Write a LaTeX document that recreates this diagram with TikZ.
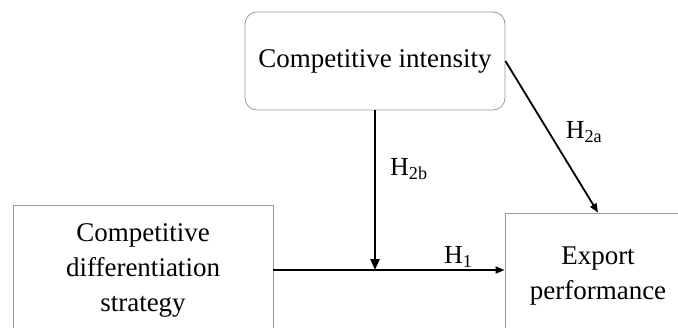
\documentclass[tikz,border=0pt]{standalone}
\usepackage{fontspec}
\setmainfont{Liberation Serif}
\usetikzlibrary{arrows.meta}
\tikzset{
  varbox/.style={draw=gray!80,line width=.8pt,align=center,inner sep=0pt},
  link/.style={-{Triangle[length=9pt,width=7pt]},line width=1.8pt},
  hyp/.style={font=\fontsize{26}{30}\selectfont,inner sep=2pt},
}
\begin{document}
\begin{tikzpicture}[x=1pt,y=-1pt,font=\fontsize{27}{35}\selectfont]
  \clip (0,0) rectangle (678,327);
  % variables
  \node[varbox,rounded corners=12pt,minimum width=260pt,minimum height=98pt] (int) at (375,61) {Competitive intensity};
  \node[varbox,minimum width=260pt,minimum height=130pt] (cds) at (143,270) {Competitive\\differentiation\\strategy};
  \node[varbox,minimum width=186pt,minimum height=126pt] (exp) at (598,276) {Export\\performance};
  % hypotheses
  \draw[link] (cds.east) -- (cds.east -| exp.west) node[hyp,pos=.8,above] {H\textsubscript{1}};
  \coordinate (join) at (int.south |- cds.east);
  \draw[link,line width=2.4pt,-{Triangle[length=11pt,width=9pt]}] (int.south) -- (join) node[hyp,pos=.37,right=12pt] {H\textsubscript{2b}};
  \draw[link] (int.east) -- (exp.north) node[hyp,pos=.47,right=14pt] {H\textsubscript{2a}};
\end{tikzpicture}
\end{document}
